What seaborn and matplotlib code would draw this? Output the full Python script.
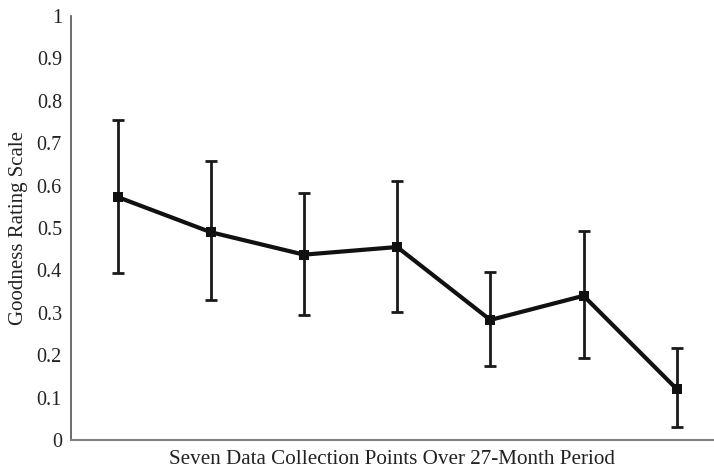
import pandas as pd
import seaborn as sns
import matplotlib.pyplot as plt

# values
points = [1, 2, 3, 4, 5, 6, 7]
rating = [0.573, 0.490, 0.437, 0.455, 0.283, 0.340, 0.120]
upper = [0.754, 0.657, 0.583, 0.610, 0.396, 0.492, 0.218]
lower = [0.394, 0.329, 0.295, 0.301, 0.175, 0.193, 0.031]

df = pd.DataFrame({"point": points, "rating": rating, "upper": upper, "lower": lower})
df["err_lo"] = df["rating"] - df["lower"]
df["err_hi"] = df["upper"] - df["rating"]

sns.set_style("white")
plt.rcParams['font.family'] = ['Liberation Serif', 'DejaVu Serif']

fig = plt.figure(figsize=(7.14, 4.70), dpi=100)
ax = fig.add_axes([0.0994, 0.064, 0.9006, 0.902])

ax.errorbar(df["point"], df["rating"], yerr=[df["err_lo"], df["err_hi"]],
            fmt='none', ecolor='#1a1a1a', elinewidth=2, capsize=4, capthick=2, zorder=2)
sns.lineplot(data=df, x="point", y="rating", ax=ax, color='#111111', linewidth=3,
             marker='s', markersize=7, markeredgewidth=0, zorder=3)

ax.set_xlim(0.5, 7.4)
ax.set_ylim(0, 1)
ax.set_yticks([i / 10 for i in range(11)])
ax.set_yticklabels(['0'] + [f"{i / 10:.1f}" for i in range(1, 10)] + ['1'])
ax.set_xticks([])
ax.tick_params(axis='y', length=0, labelsize=14.5, pad=6.5, colors='#222222')

for side in ['top', 'right']:
    ax.spines[side].set_visible(False)
ax.spines['left'].set_color('#555555')
ax.spines['bottom'].set_color('#808080')
ax.spines['left'].set_linewidth(1.2)
ax.spines['bottom'].set_linewidth(1.5)

ax.set_xlabel('Seven Data Collection Points Over 27-Month Period', fontsize=15.2, color='#222222', labelpad=7)
ax.set_ylabel('Goodness Rating Scale', fontsize=15, color='#222222', labelpad=6)

fig.savefig('out.png', dpi=100)
